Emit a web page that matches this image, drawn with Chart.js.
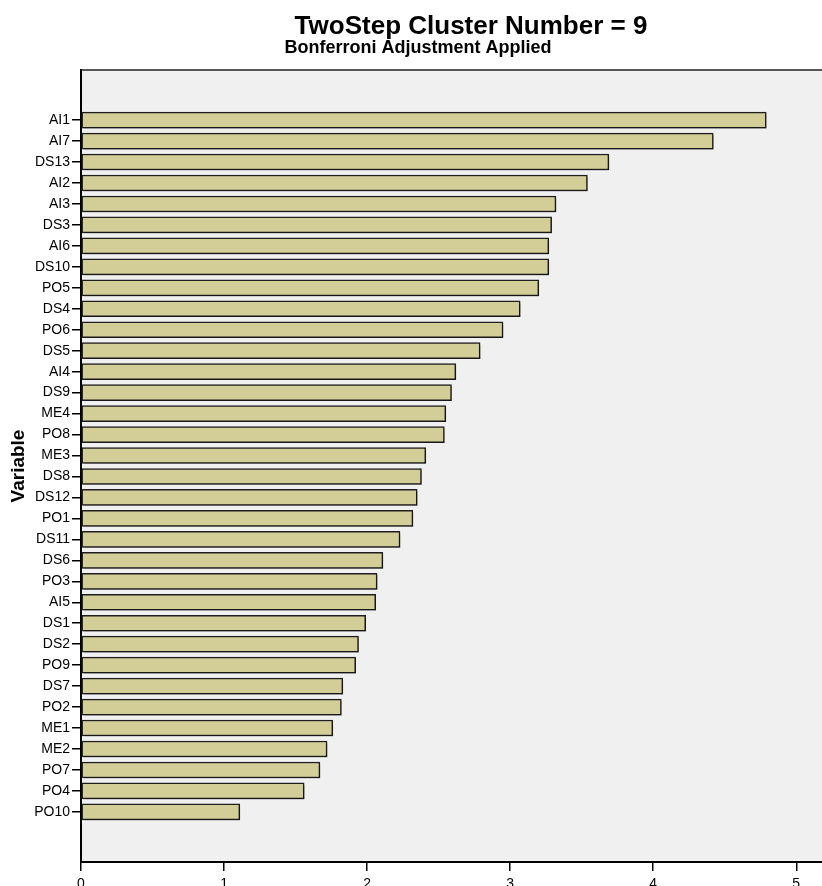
<!DOCTYPE html>
<html>
<head>
<meta charset="utf-8">
<title>TwoStep Cluster Number = 9</title>
<script src="https://cdn.jsdelivr.net/npm/chart.js@4"></script>
<style>
  html, body { margin: 0; padding: 0; background: #fff; }
  canvas { display: block; }
</style>
</head>
<body>
<canvas id="importanceChart" width="822" height="886"></canvas>
<script>
// variables, top to bottom
const variables = ["AI1", "AI7", "DS13", "AI2", "AI3", "DS3", "AI6", "DS10", "PO5", "DS4", "PO6",
  "DS5", "AI4", "DS9", "ME4", "PO8", "ME3", "DS8", "DS12", "PO1", "DS11", "DS6", "PO3", "AI5",
  "DS1", "DS2", "PO9", "DS7", "PO2", "ME1", "ME2", "PO7", "PO4", "PO10"];
const importance = [4.79, 4.42, 3.69, 3.54, 3.32, 3.29, 3.27, 3.27, 3.20, 3.07, 2.95,
  2.79, 2.62, 2.59, 2.55, 2.54, 2.41, 2.38, 2.35, 2.32, 2.23, 2.11, 2.07, 2.06,
  1.99, 1.94, 1.92, 1.83, 1.82, 1.76, 1.72, 1.67, 1.56, 1.11];
const xTicks = [0, 1, 2, 3, 4, 5];

const titleText = "TwoStep Cluster Number = 9";
const subtitleText = "Bonferroni Adjustment Applied";

const fontFamily = "'Liberation Sans', Arial, Helvetica, sans-serif";

// grey plot background + top frame line
const plotFrame = {
  id: "plotFrame",
  beforeDraw(chart) {
    const { ctx, chartArea: a } = chart;
    ctx.save();
    ctx.fillStyle = "#f0f0f0";
    ctx.fillRect(a.left, a.top, a.right - a.left, a.bottom - a.top);
    ctx.restore();
  },
  afterDraw(chart) {
    const { ctx, chartArea: a } = chart;
    ctx.save();
    ctx.strokeStyle = "#222";
    ctx.lineWidth = 1.5;
    ctx.beginPath();
    ctx.moveTo(a.left, a.top);
    ctx.lineTo(a.right, a.top);
    ctx.stroke();
    ctx.restore();
  }
};

// soft drop shadow under the bars
const barShadow = {
  id: "barShadow",
  beforeDatasetsDraw(chart) {
    const ctx = chart.ctx;
    ctx.save();
    ctx.shadowColor = "rgba(0,0,0,0.22)";
    ctx.shadowOffsetX = 2;
    ctx.shadowOffsetY = 2;
    ctx.shadowBlur = 0;
  },
  afterDatasetsDraw(chart) {
    chart.ctx.restore();
  }
};

// title + subtitle (SPSS puts them off-centre)
const headings = {
  id: "headings",
  afterDraw(chart) {
    const ctx = chart.ctx;
    ctx.save();
    ctx.fillStyle = "#000";
    ctx.textAlign = "center";
    ctx.textBaseline = "alphabetic";
    ctx.font = "bold 26px " + fontFamily;
    ctx.fillText(titleText, 471, 34);
    ctx.font = "bold 18px " + fontFamily;
    ctx.fillText(subtitleText, 418, 53);
    ctx.restore();
  }
};

const ctx = document.getElementById("importanceChart").getContext("2d");
new Chart(ctx, {
  type: "bar",
  data: {
    datasets: [{
      data: importance.map((v, i) => ({ x: v, y: i })),
      backgroundColor: "#d3ce98",
      borderColor: "#1e1e1e",
      borderWidth: 1.5,
      borderSkipped: false,
      barThickness: 16
    }]
  },
  plugins: [plotFrame, barShadow, headings],
  options: {
    indexAxis: "y",
    responsive: false,
    animation: false,
    layout: { padding: { top: 70, left: 0, right: 0, bottom: 0 } },
    plugins: {
      legend: { display: false },
      title: { display: false },
      tooltip: { enabled: false }
    },
    scales: {
      x: {
        type: "linear",
        position: "bottom",
        min: 0,
        max: 5.18,
        afterBuildTicks: scale => { scale.ticks = xTicks.map(v => ({ value: v })); },
        afterFit: scale => { scale.height = 24; },
        border: { color: "#000", width: 2 },
        grid: { drawOnChartArea: false, tickLength: 9, color: "#000", lineWidth: 1.5 },
        ticks: { color: "#000", padding: 5, font: { family: fontFamily, size: 14 } }
      },
      y: {
        type: "linear",
        reverse: true,
        offset: false,
        min: -2.39,
        max: 35.39,
        afterBuildTicks: scale => { scale.ticks = variables.map((v, i) => ({ value: i })); },
        afterFit: scale => { scale.width = 81; },
        border: { color: "#000", width: 2 },
        grid: { offset: false, drawOnChartArea: false, tickLength: 9, color: "#000", lineWidth: 1.5 },
        ticks: {
          autoSkip: false,
          color: "#000",
          padding: 2,
          font: { family: fontFamily, size: 14 },
          callback: value => variables[value]
        },
        title: {
          display: true,
          text: "Variable",
          color: "#000",
          padding: { top: 7, bottom: 0 },
          font: { family: fontFamily, size: 19, weight: "bold" }
        }
      }
    }
  }
});
</script>
</body>
</html>
